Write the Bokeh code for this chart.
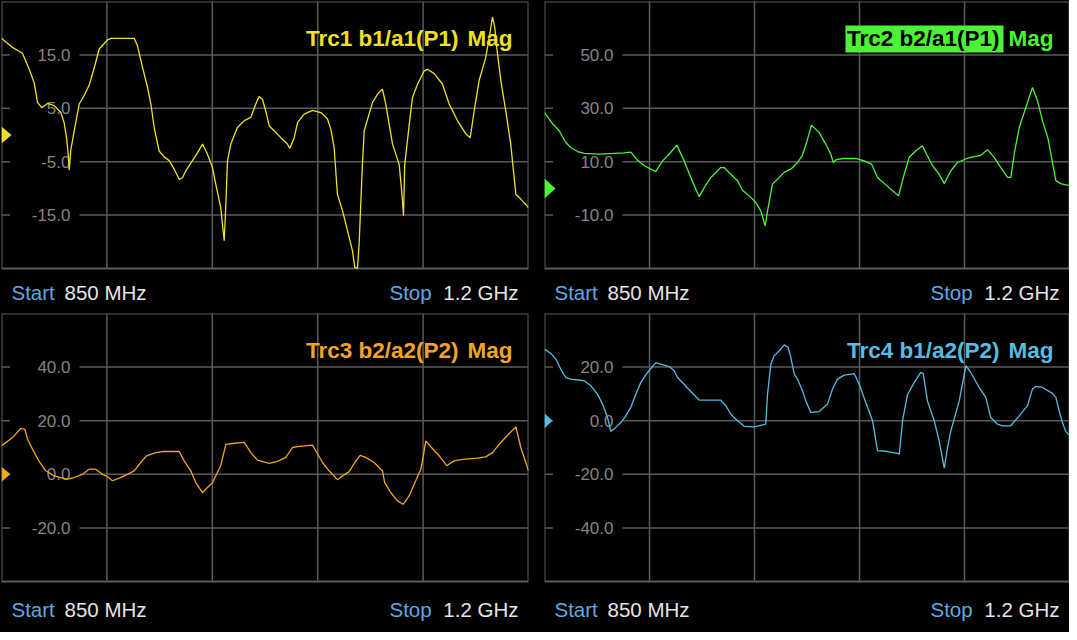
from bokeh.plotting import figure
from bokeh.models import Range1d
from bokeh.layouts import column, row
from bokeh.embed import file_html
from bokeh.resources import INLINE
from bokeh.core.properties import value

# ---------------- data ----------------
F_START, F_STOP = 850.0, 1200.0
x_grid = [920, 990, 1060, 1130]

trc1_f = [850, 857.3, 863.9, 868.4, 871.7, 873.9, 876.8, 880.5, 885.0, 889.4,
          891.6, 893.2, 894.3, 895.0, 896.0, 898.3, 901.6, 904.9, 908.2, 911.6,
          914.9, 920.4, 922.6, 938.1, 940.3, 943.7, 947.0, 949.2, 951.4, 954.7,
          958.1, 961.4, 964.7, 968.0, 970.2, 972.4, 976.8, 980.2, 983.5, 986.8,
          990.1, 992.3, 995.6, 997.9, 999.0, 1000.1, 1002.3, 1006.7, 1011.2, 1015.6,
          1018.9, 1021.1, 1023.3, 1025.5, 1027.8, 1031.1, 1035.5, 1039.9, 1041.5, 1044.4,
          1046.6, 1051.0, 1056.5, 1062.1, 1066.5, 1068.7, 1070.9, 1073.1, 1076.5, 1079.8,
          1083.1, 1084.6, 1086.4, 1087.5, 1089.7, 1090.9, 1096.4, 1099.7, 1103.0, 1105.2,
          1109.7, 1114.1, 1115.8, 1117.0, 1117.8, 1120.8, 1122.9, 1126.3, 1130.7, 1132.9,
          1137.4, 1142.9, 1147.3, 1152.8, 1158.4, 1161.3, 1163.9, 1167.2, 1171.6, 1174.3,
          1176.1, 1177.6, 1178.9, 1181.6, 1184.9, 1188.2, 1191.6, 1194.9, 1200]
trc1_db = [18.1, 16.4, 15.3, 12.3, 9.8, 6.1, 5.1, 5.9, 5.5, 4.2,
           2.3, -0.5, -3.6, -6.6, -2.9, 0.8, 5.8, 7.4, 9.3, 12.6,
           16.1, 17.8, 18.1, 18.1, 16.7, 12.6, 8.9, 5.8, 1.4, -3.0,
           -4.1, -4.8, -6.4, -8.3, -8.0, -6.7, -4.8, -3.3, -1.7, -3.6,
           -6.1, -9.2, -13.6, -19.8, -13.0, -4.8, -1.7, 1.4, 2.7, 3.3,
           5.8, 7.2, 6.7, 4.5, 1.7, 0.8, -0.5, -1.7, -2.5, -0.5,
           2.3, 3.9, 4.6, 4.2, 3.0, 1.1, -2.3, -11.1, -14.2, -17.9,
           -21.7, -24.8, -25.0, -20.4, -5.5, 0.8, 6.1, 7.6, 8.6, 5.8,
           -1.7, -5.5, -10.5, -15.1, -5.5, 2.0, 7.0, 9.5, 12.0, 12.3,
           11.5, 9.5, 5.8, 2.7, 0.2, -0.5, 4.5, 10.2, 14.5, 18.9,
           22.1, 20.1, 16.4, 10.2, 4.5, -1.7, -11.1, -12.0, -13.6]

trc2_f = [850, 855.3, 859.8, 864.2, 867.5, 872.0, 876.5, 886.5, 903.1, 907.5,
          912.0, 916.5, 924.2, 928.7, 933.1, 938.2, 943.1, 947.5, 953.1, 956.5,
          960.9, 967.5, 969.8, 974.2, 978.7, 982.0, 986.5, 990.9, 994.2, 997.1,
          998.7, 1002.0, 1005.3, 1009.8, 1014.2, 1018.7, 1022.0, 1024.9, 1028.0, 1033.1,
          1037.5, 1040.9, 1042.5, 1044.2, 1048.7, 1057.5, 1063.1, 1068.0, 1072.0, 1076.9,
          1080.9, 1086.0, 1089.8, 1093.1, 1097.5, 1102.0, 1104.7, 1108.7, 1113.1, 1116.5,
          1120.9, 1125.3, 1132.0, 1140.9, 1145.3, 1149.8, 1154.2, 1158.7, 1160.9, 1163.5,
          1166.5, 1170.9, 1175.3, 1178.7, 1182.0, 1185.8, 1190.9, 1194.2, 1198.2, 1200]
trc2_db = [28.4, 24.3, 21.6, 17.2, 15.3, 13.8, 13.1, 12.8, 13.3, 13.6,
           10.6, 8.5, 6.3, 10.3, 12.8, 16.2, 10.3, 4.1, -3.1, 0.3,
           4.1, 7.8, 7.8, 5.3, 2.9, -0.7, -2.8, -5.3, -8.4, -14.0,
           -8.4, 1.6, 3.4, 6.0, 7.2, 9.7, 12.5, 17.5, 23.7, 20.9,
           16.6, 12.8, 9.7, 10.7, 11.2, 11.2, 10.3, 9.1, 4.1, 1.6,
           -0.3, -2.8, 5.3, 11.6, 14.1, 16.0, 12.8, 8.5, 5.3, 1.8,
           6.6, 9.7, 11.3, 12.4, 14.5, 11.6, 7.8, 4.1, 4.1, 14.1,
           22.8, 30.3, 37.8, 32.8, 25.3, 18.4, 2.9, 1.8, 1.2, 1.2]

trc3_f = [850, 857.3, 862.8, 865.5, 867.3, 870.6, 875.0, 879.4, 885.0, 889.4,
          893.8, 898.3, 903.8, 908.2, 912.6, 917.1, 920.4, 923.7, 928.2, 933.7,
          938.1, 942.5, 946.3, 952.5, 956.9, 968.0, 971.3, 975.7, 979.0, 983.5,
          986.8, 990.1, 995.6, 999.0, 1003.4, 1011.2, 1015.6, 1020.0, 1027.8, 1033.3,
          1038.8, 1043.3, 1046.6, 1056.5, 1058.7, 1063.2, 1067.6, 1073.1, 1076.5, 1080.9,
          1084.6, 1088.2, 1091.9, 1097.5, 1103.0, 1104.5, 1108.5, 1113.0, 1116.8, 1120.8,
          1125.1, 1128.5, 1130.0, 1131.8, 1135.1, 1140.7, 1145.7, 1150.6, 1156.2, 1166.1,
          1171.6, 1176.1, 1180.5, 1187.2, 1191.6, 1194.9, 1200]
trc3_db = [10.6, 13.7, 17.1, 16.8, 13.1, 9.4, 4.8, 1.3, -0.6, -1.2,
           -1.8, -1.2, 0.0, 1.9, 1.9, 0.0, -0.9, -2.4, -1.4, 0.0,
           1.3, 4.4, 6.9, 8.1, 8.5, 8.5, 5.0, 1.3, -3.1, -6.8,
           -4.9, -3.1, 3.2, 11.2, 11.5, 11.9, 8.1, 5.3, 4.1, 4.8,
           6.3, 10.0, 10.3, 10.9, 8.8, 4.4, 1.3, -2.0, -0.6, 1.0,
           4.4, 7.1, 6.3, 4.4, 1.3, -3.1, -6.8, -9.9, -11.2, -8.0,
           -2.4, 1.9, 6.3, 12.5, 10.3, 6.9, 3.2, 5.0, 5.6, 6.0,
           6.5, 8.1, 11.2, 15.2, 17.7, 10.0, 1.3]

trc4_f = [850, 854.2, 857.5, 860.9, 864.2, 867.5, 876.5, 880.9, 885.3, 888.7,
          892.0, 894.2, 897.5, 900.9, 904.2, 907.5, 910.9, 914.2, 918.7, 924.2,
          928.7, 933.1, 936.5, 938.7, 943.1, 947.5, 953.1, 967.5, 970.9, 974.2,
          978.7, 983.1, 989.8, 997.5, 998.7, 1000.9, 1003.1, 1006.5, 1009.8, 1012.5,
          1014.2, 1016.5, 1018.7, 1022.0, 1024.2, 1027.5, 1033.1, 1038.7, 1042.0, 1045.3,
          1049.8, 1056.5, 1059.8, 1064.2, 1068.7, 1072.0, 1078.7, 1085.3, 1086.5, 1088.7,
          1092.0, 1096.5, 1100.9, 1102.5, 1105.3, 1109.8, 1113.1, 1116.5, 1118.7, 1120.9,
          1126.5, 1130.9, 1134.2, 1139.8, 1144.2, 1147.5, 1152.0, 1155.3, 1160.9, 1166.5,
          1172.0, 1175.3, 1177.5, 1182.0, 1188.7, 1190.9, 1193.1, 1195.3, 1197.5, 1200]
trc4_db = [26.7, 25.1, 23.0, 19.2, 16.1, 15.5, 14.9, 13.0, 9.9, 6.2,
           1.2, -4.0, -2.5, -0.7, 1.8, 4.9, 9.9, 14.3, 18.0, 21.7,
           20.9, 20.2, 18.6, 16.1, 13.6, 10.9, 7.7, 7.7, 5.6, 2.4,
           0.0, -2.1, -2.3, -1.3, 9.9, 21.1, 24.2, 26.1, 28.3, 27.3,
           23.6, 17.4, 15.5, 11.2, 7.4, 3.1, 3.4, 6.2, 11.8, 15.5,
           17.0, 17.6, 13.6, 6.8, 0.0, -11.2, -11.5, -12.2, -12.5, 0.0,
           9.7, 14.3, 18.0, 17.6, 7.4, 0.0, -7.5, -17.7, -10.0, -3.8,
           7.4, 20.5, 18.0, 12.4, 8.7, 1.2, -1.3, -1.9, -1.9, 1.8,
           5.6, 11.8, 12.8, 12.4, 10.2, 8.7, 3.7, -0.7, -4.0, -5.5]

y_ticks = {1: [15.0, 5.0, -5.0, -15.0],
           2: [50.0, 30.0, 10.0, -10.0],
           3: [40.0, 20.0, 0.0, -20.0],
           4: [20.0, 0.0, -20.0, -40.0]}
y_lims = {1: (-25, 25), 2: (-30, 70), 3: (-40, 60), 4: (-60, 40)}
ref_level = 0.0
titles = {1: ("Trc1 b1/a1(P1)", "Mag"), 2: ("Trc2 b2/a1(P1)", "Mag"),
          3: ("Trc3 b2/a2(P2)", "Mag"), 4: ("Trc4 b1/a2(P2)", "Mag")}
start_lbl, start_val = "Start", "850 MHz"
stop_lbl, stop_val = "Stop", "1.2 GHz"

# ---------------- style ----------------
FONT = "Liberation Sans, Arial, sans-serif"
GRID = "#5a5a5a"
TICK = "#858585"
BLUE_TXT = "#5fa9e2"
WHITE_TXT = "#e4e4e4"
COLORS = {1: "#f0e024", 2: "#4cf236", 3: "#f2a424", 4: "#56bce2"}
TRI = {1: (10, 17), 2: (11, 20), 3: (9, 15), 4: (8, 15)}


def panel(n, freq, db, fw, fh, foot_h, borders, foot_mid, boxed=False):
    ylo, yhi = y_lims[n]
    xpp = (F_STOP - F_START) / fw          # data units per pixel
    ypp = (yhi - ylo) / fh
    ybot = ylo - foot_h * ypp               # frame extends down over the footer
    p = figure(frame_width=fw, frame_height=fh + foot_h,
               x_range=Range1d(F_START, F_STOP), y_range=Range1d(ybot, yhi),
               x_axis_location=None, y_axis_location=None, title=None,
               toolbar_location=None, output_backend="svg",
               background_fill_color="black", border_fill_color="black",
               min_border_left=borders[0], min_border_right=borders[1],
               min_border_top=borders[2], min_border_bottom=0)
    p.outline_line_color = None
    p.xgrid.visible = False
    p.ygrid.visible = False

    yt = y_ticks[n]
    # grid
    p.segment(x0=[F_START] * len(yt), x1=[F_STOP] * len(yt), y0=yt, y1=yt,
              line_color=GRID, line_width=1.5)
    p.segment(x0=x_grid, x1=x_grid, y0=[ylo] * len(x_grid), y1=[yhi] * len(x_grid),
              line_color=GRID, line_width=1.5)
    p.quad(left=[F_START], right=[F_STOP], bottom=[ylo], top=[yhi],
           fill_color=None, line_color=GRID, line_width=2)

    # black gaps in grid lines behind the scale labels
    p.rect(x=[F_START + 43.25 * xpp] * len(yt), y=yt, width=69.5, height=5,
           width_units="screen", height_units="screen",
           fill_color="black", line_color=None)
    p.text(x=[F_START + 69 * xpp] * len(yt), y=yt, text=[f"{v:.1f}" for v in yt],
           text_align="right", text_baseline="middle",
           text_color=TICK, text_font=value(FONT), text_font_size="17px")

    # reference level marker
    tw, th = TRI[n]
    p.patch([F_START, F_START + tw * xpp, F_START],
            [ref_level + th / 2 * ypp, ref_level, ref_level - th / 2 * ypp],
            fill_color=COLORS[n], line_color=None)

    # title
    main, tail = titles[n]
    ty = yhi - 37 * ypp
    if boxed:
        p.quad(left=[F_STOP - 224 * xpp], right=[F_STOP - 66 * xpp],
               bottom=[yhi - 51 * ypp], top=[yhi - 24 * ypp],
               fill_color=COLORS[n], line_color=None)
        main_col = "black"
    else:
        main_col = COLORS[n]
    tkw = dict(text_baseline="middle", text_align="right", text_font=value(FONT),
               text_font_style="bold", text_font_size="22.5px")
    p.text(x=[F_STOP - 70 * xpp], y=[ty], text=[main], text_color=main_col, **tkw)
    p.text(x=[F_STOP - 16 * xpp], y=[ty], text=[tail], text_color=COLORS[n], **tkw)

    # trace
    p.line(freq, db, line_color=COLORS[n], line_width=1.3)

    # footer
    fy = ylo - foot_mid * ypp
    fkw = dict(text_baseline="middle", text_font=value(FONT), text_font_size="20.5px")
    p.text(x=[F_START + 10 * xpp], y=[fy], text=[start_lbl], text_color=BLUE_TXT, **fkw)
    p.text(x=[F_START + 63 * xpp], y=[fy], text=[start_val], text_color=WHITE_TXT, **fkw)
    p.text(x=[F_STOP - 139 * xpp], y=[fy], text=[stop_lbl], text_color=BLUE_TXT, **fkw)
    p.text(x=[F_STOP - 10 * xpp], y=[fy], text=[stop_val], text_color=WHITE_TXT,
           text_align="right", **fkw)
    return p


p1 = panel(1, trc1_f, trc1_db, 527, 267, 43, (1, 12, 1), 23.5)
p2 = panel(2, trc2_f, trc2_db, 525, 267, 43, (4, 0, 1), 23.5, boxed=True)
p3 = panel(3, trc3_f, trc3_db, 527, 268, 51, (1, 12, 2), 28)
p4 = panel(4, trc4_f, trc4_db, 525, 268, 51, (4, 0, 2), 28)

bg = {"background-color": "black"}
layout = column(row(p1, p2, styles=bg, spacing=0),
                row(p3, p4, styles=bg, spacing=0),
                styles=bg, spacing=0)
open("out.html", "w").write(file_html(layout, INLINE))
